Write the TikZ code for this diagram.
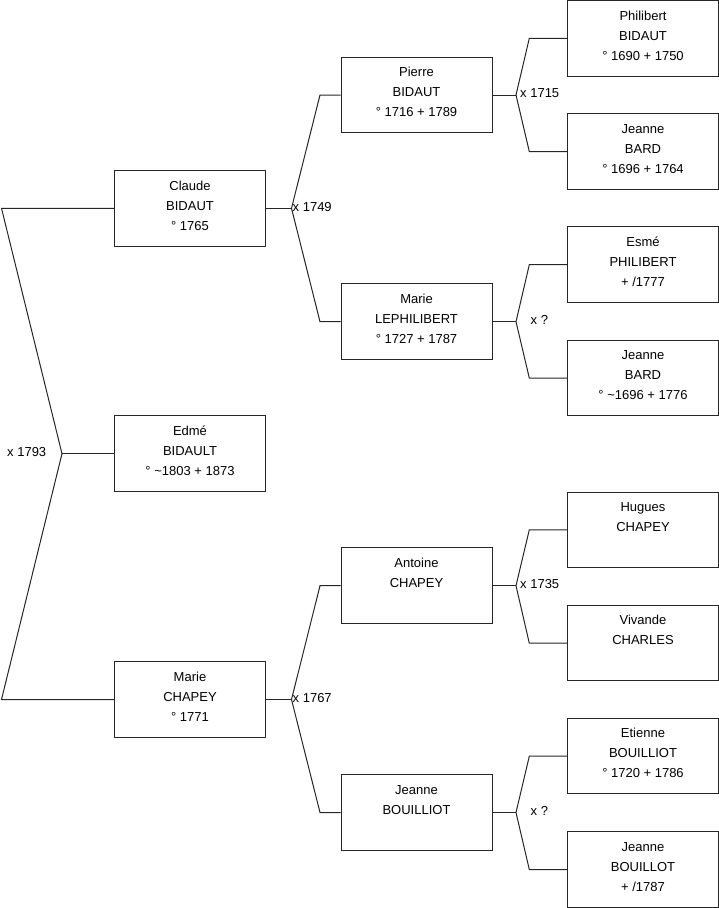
\documentclass[tikz,border=0pt]{standalone}
\usepackage{fontspec}
\setmainfont{Liberation Sans}
\newcommand\fperson[4]{%
  \node[person] (#1) at (#2,#3) {};
  \node[ptxt] (#1t) at ([yshift=-20pt]#1.north) {\parbox[t]{150pt}{\centering\fontsize{13}{20}\selectfont #4}};}
\begin{document}
\begin{tikzpicture}[x=1pt,y=-1pt,
  person/.style={draw=black!85, line width=1pt, minimum width=151pt, minimum height=75.5pt, inner sep=0pt},
  ptxt/.style={anchor=base, inner sep=0pt},
  wire/.style={draw=black!85, line width=1pt},
  lbl/.style={anchor=west, inner sep=0pt, font=\fontsize{13}{20}\selectfont}]
\useasboundingbox (0,0) rectangle (719,908);

% column 1
\fperson{claude}{190}{208.3}{Claude\\BIDAUT\\° 1765}
\fperson{edme}{190}{453.7}{Edmé\\BIDAULT\\° \textasciitilde 1803 + 1873}
\fperson{mariec}{190}{699.5}{Marie\\CHAPEY\\° 1771}
% column 2
\fperson{pierre}{416.5}{95}{Pierre\\BIDAUT\\° 1716 + 1789}
\fperson{mariel}{416.5}{321.7}{Marie\\LEPHILIBERT\\° 1727 + 1787}
\fperson{antoine}{416.5}{585.7}{Antoine\\CHAPEY}
\fperson{jeanneb}{416.5}{812.5}{Jeanne\\BOUILLIOT}
% column 3
\fperson{philibert}{643}{38.3}{Philibert\\BIDAUT\\° 1690 + 1750}
\fperson{bard}{643}{151.5}{Jeanne\\BARD\\° 1696 + 1764}
\fperson{esme}{643}{264.7}{Esmé\\PHILIBERT\\+ /1777}
\fperson{bardb}{643}{378}{Jeanne\\BARD\\° \textasciitilde 1696 + 1776}
\fperson{hugues}{643}{529.8}{Hugues\\CHAPEY}
\fperson{vivande}{643}{643.2}{Vivande\\CHARLES}
\fperson{etienne}{643}{756.2}{Etienne\\BOUILLIOT\\° 1720 + 1786}
\fperson{jeannebo}{643}{869.5}{Jeanne\\BOUILLOT\\+ /1787}

% Edmé's parents
\coordinate (e1) at (1.5,208.3);
\coordinate (ej) at (62,453.7);
\coordinate (e2) at (1.5,699.5);
\draw[wire] (claude.west) -- (e1) -- (ej) -- (e2) -- (mariec.west);
\draw[wire] (ej) -- (edme.west);
\node[lbl] (l1793) at (7,452) {x 1793};

% Claude's parents
\coordinate (cj) at (291.5,208.3);
\coordinate (c1) at (320,95);
\coordinate (c2) at (320,321.7);
\draw[wire] (claude.east) -- (cj);
\draw[wire] (pierre.west) -- (c1) -- (cj) -- (c2) -- (mariel.west);
\node[lbl] (l1749) at (292.5,207) {x 1749};

% Marie CHAPEY's parents
\coordinate (mj) at (291.5,699.5);
\coordinate (m1) at (320,585.7);
\coordinate (m2) at (320,812.5);
\draw[wire] (mariec.east) -- (mj);
\draw[wire] (antoine.west) -- (m1) -- (mj) -- (m2) -- (jeanneb.west);
\node[lbl] (l1767) at (292.5,698) {x 1767};

% Pierre's parents
\coordinate (pj) at (516,95);
\coordinate (p1) at (529.3,38.3);
\coordinate (p2) at (529.3,151.5);
\draw[wire] (pierre.east) -- (pj);
\draw[wire] (philibert.west) -- (p1) -- (pj) -- (p2) -- (bard.west);
\node[lbl] (l1715) at (520,93.5) {x 1715};

% Marie LEPHILIBERT's parents
\coordinate (qj) at (516,321.7);
\coordinate (q1) at (529.3,264.7);
\coordinate (q2) at (529.3,378);
\draw[wire] (mariel.east) -- (qj);
\draw[wire] (esme.west) -- (q1) -- (qj) -- (q2) -- (bardb.west);
\node[lbl] (lq1) at (530.5,320) {x ?};

% Antoine's parents
\coordinate (aj) at (516,585.7);
\coordinate (a1) at (529.3,529.8);
\coordinate (a2) at (529.3,643.2);
\draw[wire] (antoine.east) -- (aj);
\draw[wire] (hugues.west) -- (a1) -- (aj) -- (a2) -- (vivande.west);
\node[lbl] (l1735) at (520,584) {x 1735};

% Jeanne BOUILLIOT's parents
\coordinate (bj) at (516,812.5);
\coordinate (b1) at (529.3,756.2);
\coordinate (b2) at (529.3,869.5);
\draw[wire] (jeanneb.east) -- (bj);
\draw[wire] (etienne.west) -- (b1) -- (bj) -- (b2) -- (jeannebo.west);
\node[lbl] (lq2) at (530.5,811) {x ?};
\end{tikzpicture}
\end{document}
